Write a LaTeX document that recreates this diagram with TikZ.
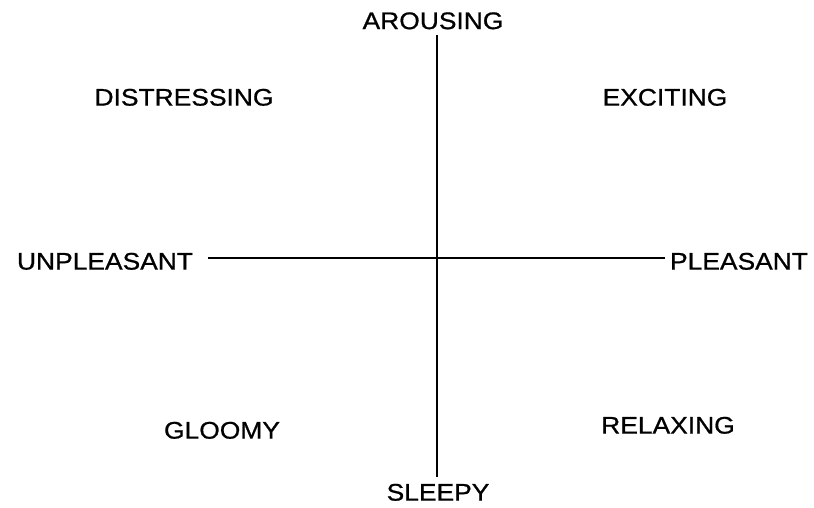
\documentclass[tikz,border=0pt]{standalone}
\usepackage{fontspec}
\setmainfont{Liberation Sans}[FakeStretch=1.1,FakeBold=0.8]
\begin{document}
\begin{tikzpicture}[x=1pt,y=-1pt,
  lbl/.style={font=\fontsize{24}{24}\selectfont, text height=17.2pt, text depth=0pt, inner sep=0pt, anchor=center},
  axis/.style={line width=1.9pt, black}]
\useasboundingbox (0,0) rectangle (814,508);
\node[lbl] (arousing) at (433,20.5) {AROUSING};
\node[lbl] (sleepy) at (438,492) {SLEEPY};
\node[lbl] (unpleasant) at (105,261) {UNPLEASANT};
\node[lbl] (pleasant) at (739,261) {PLEASANT};
\node[lbl] (distressing) at (184,97) {DISTRESSING};
\node[lbl] (exciting) at (665,97) {EXCITING};
\node[lbl] (gloomy) at (222,430) {GLOOMY};
\node[lbl] (relaxing) at (668,425) {RELAXING};
\coordinate (top) at (437,35);
\coordinate (bottom) at (437,477);
\coordinate (left) at (208,258);
\coordinate (right) at (665,258);
\draw[axis] (top) -- (bottom);
\draw[axis] (left) -- (right);
\end{tikzpicture}
\end{document}
